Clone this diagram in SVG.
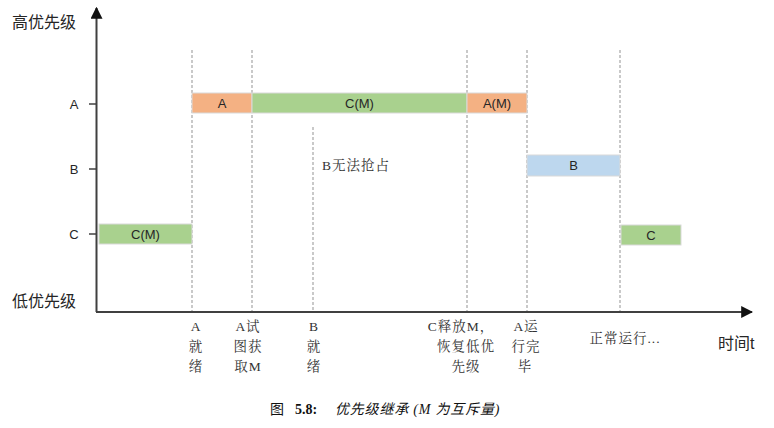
<svg xmlns="http://www.w3.org/2000/svg" width="774" height="428" viewBox="0 0 774 428">
<defs>
<style>
.axis{stroke:#404040;stroke-width:2;fill:none}
.tick{stroke:#404040;stroke-width:1.5}
.guide{stroke:#A6A6A6;stroke-width:1.2;stroke-dasharray:3 2;fill:none}
.bar{stroke:#D9D9D9;stroke-width:1}
.orange{fill:#F4B183}
.green{fill:#A9D18E}
.blue{fill:#BDD7EE}
.sans{font-family:"Liberation Sans","Noto Sans CJK SC",sans-serif;fill:#262626}
.bl{font-size:13px;text-anchor:middle;dominant-baseline:central}
.ax{font-size:16px}
.serif{font-family:"Liberation Serif","Noto Serif CJK SC","Noto Sans CJK SC",serif;fill:#333;font-size:13.5px;letter-spacing:1px;text-anchor:middle}
</style>
<marker id="arr" viewBox="0 0 10 10" refX="9" refY="5" markerWidth="6" markerHeight="6" markerUnits="strokeWidth" orient="auto">
<path d="M0,0 L10,5 L0,10 z" fill="#111"/>
</marker>
</defs>
<rect width="774" height="428" fill="#fff"/>

<g id="guides">
<line class="guide" x1="192" y1="50" x2="192" y2="312"/>
<line class="guide" x1="252" y1="50" x2="252" y2="312"/>
<line class="guide" x1="313" y1="127" x2="313" y2="312"/>
<line class="guide" x1="467" y1="50" x2="467" y2="312"/>
<line class="guide" x1="527" y1="50" x2="527" y2="312"/>
<line class="guide" x1="620" y1="50" x2="620" y2="312"/>
</g>

<g id="connectors">
<line class="axis" x1="96.5" y1="312" x2="96.5" y2="8" marker-end="url(#arr)"/>
<line class="axis" x1="96" y1="312" x2="752" y2="312" marker-end="url(#arr)"/>
<line class="tick" x1="89" y1="104" x2="96" y2="104"/>
<line class="tick" x1="89" y1="169" x2="96" y2="169"/>
<line class="tick" x1="89" y1="234" x2="96" y2="234"/>
</g>

<g id="axis-labels">
<text class="sans ax" x="12" y="28">高优先级</text>
<text class="sans ax" x="12" y="307">低优先级</text>
<text class="sans bl" x="74" y="104">A</text>
<text class="sans bl" x="74" y="169">B</text>
<text class="sans bl" x="74" y="234">C</text>
<text class="sans" x="718" y="349" font-size="16">时间t</text>
</g>

<g id="bar-A1"><rect class="bar orange" x="192" y="93" width="60" height="20"/><text class="sans bl" x="222" y="103">A</text></g>
<g id="bar-CM1"><rect class="bar green" x="252" y="93" width="215" height="20"/><text class="sans bl" x="359.5" y="103">C(M)</text></g>
<g id="bar-AM"><rect class="bar orange" x="467" y="93" width="60" height="20"/><text class="sans bl" x="497" y="103">A(M)</text></g>
<g id="bar-B"><rect class="bar blue" x="527" y="155" width="93" height="21"/><text class="sans bl" x="573.5" y="165.5">B</text></g>
<g id="bar-CM0"><rect class="bar green" x="99" y="224" width="93" height="20"/><text class="sans bl" x="145.5" y="234">C(M)</text></g>
<g id="bar-C"><rect class="bar green" x="621" y="225" width="60" height="20"/><text class="sans bl" x="651" y="235">C</text></g>

<g id="notes">
<text class="serif" x="356" y="170">B无法抢占</text>
<g id="ev1"><text class="serif" x="196" y="331">A</text><text class="serif" x="196" y="351">就</text><text class="serif" x="196" y="371">绪</text></g>
<g id="ev2"><text class="serif" x="248" y="331">A试</text><text class="serif" x="248" y="351">图获</text><text class="serif" x="248" y="371">取M</text></g>
<g id="ev3"><text class="serif" x="314" y="331">B</text><text class="serif" x="314" y="351">就</text><text class="serif" x="314" y="371">绪</text></g>
<g id="ev4"><text class="serif" x="461" y="331">C释放M，</text><text class="serif" x="466" y="351">恢复低优</text><text class="serif" x="466" y="371">先级</text></g>
<g id="ev5"><text class="serif" x="526" y="331">A运</text><text class="serif" x="526" y="351">行完</text><text class="serif" x="525" y="371">毕</text></g>
<g id="ev6"><text class="serif" x="625" y="343">正常运行...</text></g>
</g>

<g id="caption" font-family="Liberation Serif,Noto Sans CJK SC,serif" font-size="14" fill="#111">
<text x="270" y="414">图</text>
<text x="295" y="414" font-weight="bold">5.8:</text>
<text x="335" y="414" font-style="italic" letter-spacing="0.8">优先级继承 (<tspan>M</tspan> 为互斥量)</text>
</g>
</svg>
